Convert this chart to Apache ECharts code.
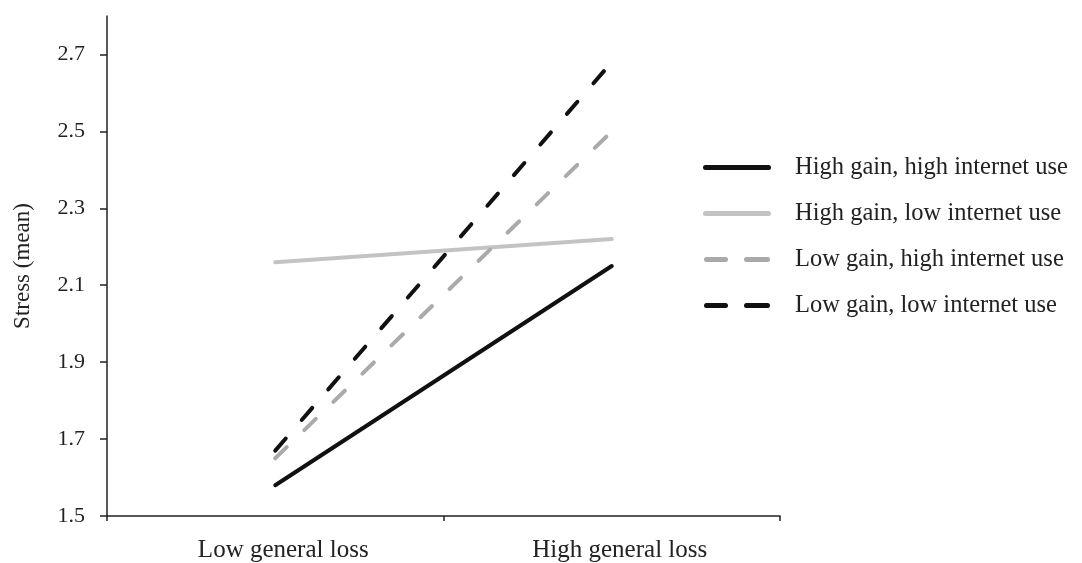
<!DOCTYPE html>
<html>
<head>
<meta charset="utf-8">
<script src="https://cdn.jsdelivr.net/npm/echarts@6/dist/echarts.min.js"></script>
<style>
  html, body { margin: 0; padding: 0; background: #fff; }
  #chart { width: 1082px; height: 563px; }
</style>
</head>
<body>
<div id="chart"></div>
<script>
// Categories on the x axis
const categories = ['Low general loss', 'High general loss'];
// Mean stress per group
const highGainHighUse = [1.58, 2.15];
const highGainLowUse = [2.16, 2.22];
const lowGainHighUse = [1.65, 2.50];
const lowGainLowUse = [1.67, 2.68];
// Y axis tick values
const yTicks = [1.5, 1.7, 1.9, 2.1, 2.3, 2.5, 2.7];

const font = 'Liberation Serif, Times New Roman, serif';
const chart = echarts.init(document.getElementById('chart'), null, { renderer: 'canvas' });

// Legend keys: a rounded bar for solid lines, two rounded bars for dashed ones
const solidIcon = 'path://M2.5,0 L65.5,0 A2.5,2.5 0 0 1 65.5,5 L2.5,5 A2.5,2.5 0 0 1 2.5,0 Z';
const dashedIcon = 'path://M2.5,0 L21.5,0 A2.5,2.5 0 0 1 21.5,5 L2.5,5 A2.5,2.5 0 0 1 2.5,0 Z ' +
                   'M42.5,0 L63.5,0 A2.5,2.5 0 0 1 63.5,5 L42.5,5 A2.5,2.5 0 0 1 42.5,0 Z';

function line(name, data, color, dashed) {
  return {
    name: name,
    type: 'line',
    data: data,
    symbol: 'none',
    silent: true,
    animation: false,
    lineStyle: {
      color: color,
      width: 4,
      cap: 'round',
      type: dashed ? [16, 24.5] : 'solid'
    },
    itemStyle: { color: color }
  };
}

const names = ['High gain, high internet use', 'High gain, low internet use',
               'Low gain, high internet use', 'Low gain, low internet use'];

chart.setOption({
  animation: false,
  grid: { left: 107, right: 302, top: 16, bottom: 47 },
  legend: {
    orient: 'vertical',
    left: 698,
    top: 150,
    itemWidth: 68,
    itemHeight: 5,
    itemGap: 21,
    textStyle: { fontFamily: font, fontSize: 24.5, color: '#222', padding: [0, 0, 0, 19] },
    data: [
      { name: names[0], icon: solidIcon },
      { name: names[1], icon: solidIcon },
      { name: names[2], icon: dashedIcon },
      { name: names[3], icon: dashedIcon }
    ]
  },
  xAxis: {
    type: 'category',
    data: categories,
    boundaryGap: true,
    axisLine: { lineStyle: { color: '#222', width: 1.5 } },
    axisTick: { show: true, length: 5, lineStyle: { color: '#222', width: 1.5 } },
    axisLabel: { fontFamily: font, fontSize: 25, color: '#222', margin: 22, padding: [0, 0, 0, 16] },
    splitLine: { show: false }
  },
  yAxis: {
    type: 'value',
    min: 1.5,
    max: 2.8,
    name: 'Stress (mean)',
    nameLocation: 'middle',
    nameGap: 73,
    nameTextStyle: { fontFamily: font, fontSize: 23, color: '#222' },
    axisLine: { show: true, lineStyle: { color: '#222', width: 1.5 } },
    axisTick: { show: true, length: 7, customValues: yTicks, lineStyle: { color: '#222', width: 1.5 } },
    axisLabel: {
      fontFamily: font, fontSize: 22, color: '#222', margin: 22,
      customValues: yTicks,
      formatter: v => v.toFixed(1)
    },
    splitLine: { show: false }
  },
  series: [
    line(names[0], highGainHighUse, '#111111', false),
    line(names[1], highGainLowUse, '#c3c3c3', false),
    line(names[2], lowGainHighUse, '#aaaaaa', true),
    line(names[3], lowGainLowUse, '#111111', true)
  ]
});
</script>
</body>
</html>
